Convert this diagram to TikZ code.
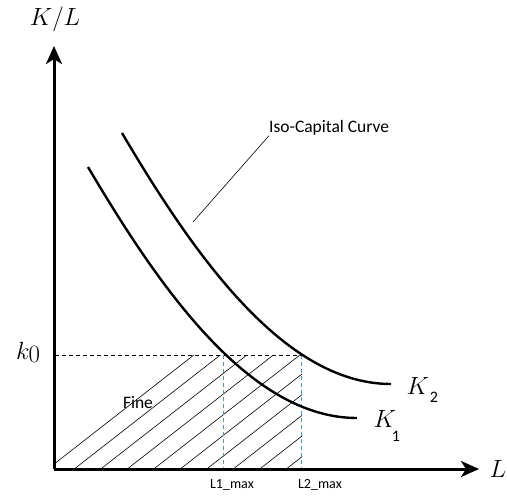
\documentclass[tikz,border=0pt]{standalone}
\usepackage{fontspec}
\newfontfamily\calfnt{Carlito}
\usetikzlibrary{arrows.meta}
\definecolor{dashblue}{RGB}{80,145,210}
\tikzset{
  axis/.style={line width=3pt,-{Stealth[length=18pt,width=16pt,inset=5pt]}},
  isocurve/.style={line width=2.4pt},
  hatchline/.style={line width=0.6pt},
  guide/.style={dashed,line width=0.6pt,dash pattern=on 4pt off 3pt},
  blueguide/.style={dashed,dashblue,line width=0.9pt,dash pattern=on 4pt off 3pt},
  mathlbl/.style={inner sep=0pt,font=\fontsize{25}{30}\selectfont},
  biglbl/.style={inner sep=0pt,font=\fontsize{31}{36}\selectfont},
  txt/.style={inner sep=0pt,font=\calfnt\fontsize{17.5}{21}\selectfont},
  small/.style={inner sep=0pt,font=\calfnt\fontsize{14}{16}\selectfont},
  sub/.style={inner sep=0pt,font=\calfnt\fontsize{16}{19}\selectfont}
}
\begin{document}
\begin{tikzpicture}[x=1pt,y=-1pt]
\useasboundingbox (0,0) rectangle (507,496);
% hatching
\begin{scope}
\clip (55,355) rectangle (302,468);
\foreach \b in {49,75.5,...,460}{
  \draw[hatchline] (\b,468) -- ++(200,-156);
}
\end{scope}
% guides
\coordinate (k0p) at (55,355);
\coordinate (c2) at (301,355);
\coordinate (c1) at (223,355);
\coordinate (b1) at (223,468);
\coordinate (b2) at (301,468);
\draw[guide] (k0p) -- (c2);
\draw[blueguide] (c1) -- (b1);
\draw[blueguide] (c2) -- (b2);
% axes
\coordinate (O) at (54,469);
\coordinate (Ytop) at (54,46);
\coordinate (Xend) at (479,469);
\draw[axis] (O) -- (Ytop);
\draw[axis] (O) -- (Xend);
% curves
\draw[isocurve] (88,167) .. controls (160,289) and (250,418) .. (357,418);
\draw[isocurve] (122,133) .. controls (194,255) and (284,384) .. (391,384);
% labels
\node[mathlbl] (KL) at (55,19) {$K/L$};
\node[inner sep=0pt,font=\fontsize{31}{36}\selectfont] (k0) at (28,352) {$k$\kern-1pt\raisebox{-3pt}{\fontsize{25}{30}\selectfont$0$}};
\node[mathlbl] (Lx) at (498,469) {$L$};
\node[biglbl] (K2) at (418,386) {$K$};
\node[sub] (s2) at (434,397) {2};
\node[biglbl] (K1) at (385,419) {$K$};
\node[sub] (s1) at (396,436) {1};
\node[txt] (fine) at (138,403) {Fine};
\node[small] (l1) at (232,485) {L1\_max};
\node[small] (l2) at (320,485) {L2\_max};
\node[txt,anchor=west] (iso) at (269,128) {Iso-Capital Curve};
\coordinate (lead) at (193,222);
\draw[line width=0.6pt] (lead) -- (iso.south west);
\end{tikzpicture}
\end{document}
